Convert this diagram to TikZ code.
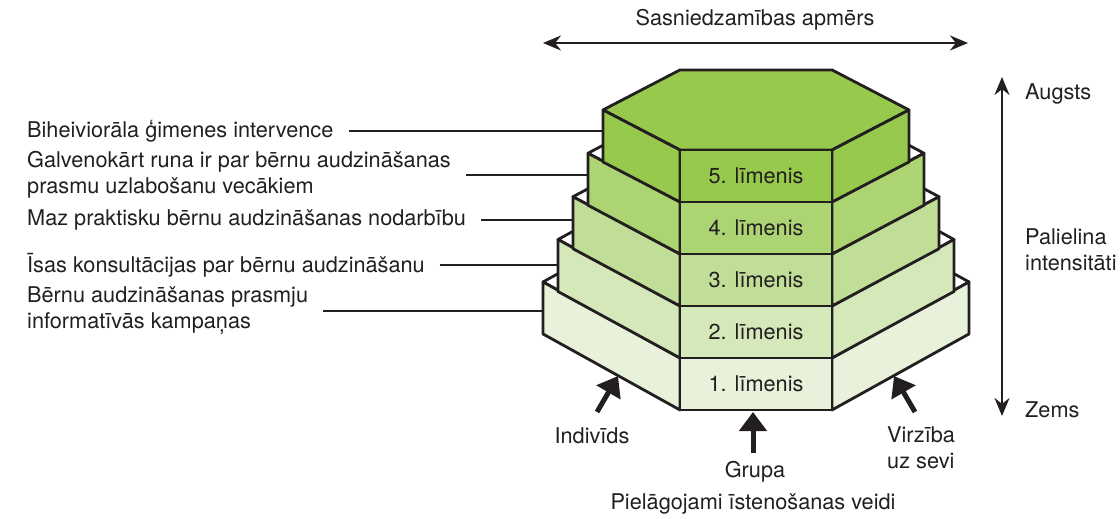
\documentclass[tikz,border=0pt]{standalone}
\usepackage{fontspec}
\setmainfont{TeX Gyre Heros}
\usetikzlibrary{arrows.meta}
\definecolor{ink}{RGB}{35,31,32}
\definecolor{gA}{RGB}{232,242,218}
\definecolor{gB}{RGB}{212,232,186}
\definecolor{gC}{RGB}{192,222,152}
\definecolor{gD}{RGB}{172,212,115}
\definecolor{gE}{RGB}{151,201,77}
\begin{document}
\begin{tikzpicture}[x=1bp,y=-1bp,
  every node/.style={text=ink, font=\fontsize{21.7bp}{26bp}\selectfont},
  txt/.style={inner sep=0pt, align=left, anchor=west},
  face/.style={draw=ink, line width=2.8bp, line join=round},
  callout/.style={draw=ink, line width=1.4bp},
  dbl/.style={draw=ink, line width=2.2bp, {Stealth[length=18bp,width=15bp]}-{Stealth[length=18bp,width=15bp]}},
  bigarrow/.style={draw=ink, line width=5bp, -{Triangle[length=19bp,width=27bp]}}
]
\useasboundingbox (0,0) rectangle (1120,519);

% levels, from bottom to top
\foreach \k/\W/\T/\s/\col/\topc in {1/213/358/0.555/gA/white, 2/198/306/0.545/gB/white, 3/183/254/0.535/gC/white, 4/168/202/0.53/gD/white, 5/153/150/0.52/gE/gE}{
  \pgfmathsetmacro{\d}{\W-76}
  \pgfmathsetmacro{\yv}{\T-\s*\d}
  \pgfmathsetmacro{\yb}{\T-2*\s*\d}
  \pgfmathsetmacro{\xl}{756-\W}
  \pgfmathsetmacro{\xr}{756+\W}
  \pgfmathsetmacro{\Tb}{\T+52}
  \pgfmathsetmacro{\yvb}{\yv+52}
  \coordinate (v\k) at (\xl,\yv);
  \coordinate (w\k) at (\xr,\yv);
  \fill[\topc, face] (680,\T) -- (\xl,\yv) -- (680,\yb) -- (832,\yb) -- (\xr,\yv) -- (832,\T) -- cycle;
  \fill[\col, face] (680,\T) -- (\xl,\yv) -- (\xl,\yvb) -- (680,\Tb) -- cycle;
  \fill[\col, face] (832,\T) -- (\xr,\yv) -- (\xr,\yvb) -- (832,\Tb) -- cycle;
  \fill[\col, face] (680,\T) rectangle (832,\Tb);
  \node (l\k) at (756,{\T+26}) {\k. līmenis};
}

% callout texts
\node[txt] (c5) at (27,131) {Biheiviorāla ģimenes intervence};
\node[txt] (c4) at (27,175) {Galvenokārt runa ir par bērnu audzināšanas\\prasmu uzlabošanu vecākiem};
\node[txt] (c3) at (27,220) {Maz praktisku bērnu audzināšanas nodarbību};
\node[txt] (c2) at (27,265) {Īsas konsultācijas par bērnu audzināšanu};
\node[txt] (c1) at (27,311) {Bērnu audzināšanas prasmju\\informatīvās kampaņas};
\foreach \k in {1,...,5}{
  \draw[callout] ([xshift=15bp]c\k.east) -- (c\k.east -| v\k);
}

% reach arrow
\coordinate (hl) at (543,43);
\coordinate (hr) at (968,43);
\draw[dbl] (hl) -- (hr);
\node (reach) at (755,20) {Sasniedzamības apmērs};

% intensity arrow
\coordinate (vt) at (1002,77);
\coordinate (vb) at (1002,416);
\draw[dbl] (vt) -- (vb);
\node[txt] (hi) at (1025,94) {Augsts};
\node[txt] (lo) at (1025,410) {Zems};
\node[txt] (inc) at (1025,250) {Palielina\\intensitāti};

% delivery arrows
\coordinate (ia) at (597,412); \coordinate (ib) at (618,376);
\draw[bigarrow] (ia) -- (ib);
\coordinate (ga) at (753,453); \coordinate (gb) at (753,412);
\draw[bigarrow] (ga) -- (gb);
\coordinate (sa) at (915,412); \coordinate (sb) at (894,376);
\draw[bigarrow] (sa) -- (sb);
\node (ind) at (592,436) {Indivīds};
\node (grp) at (755,472) {Grupa};
\node[txt] (self) at (887,448) {Virzība\\uz sevi};
\node (modes) at (753,504) {Pielāgojami īstenošanas veidi};
\end{tikzpicture}
\end{document}
